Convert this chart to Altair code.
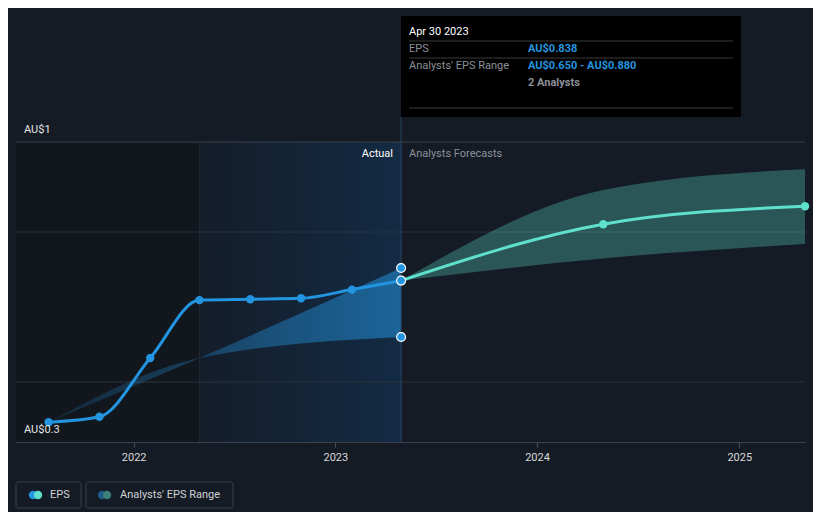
import altair as alt
import pandas as pd

# ---- data ----
eps_dates = ["2021-07-31", "2021-10-31", "2022-01-31", "2022-04-30",
             "2022-07-31", "2022-10-31", "2023-01-31", "2023-04-30"]
eps_vals = [0.366, 0.384, 0.580, 0.773, 0.776, 0.779, 0.808, 0.838]

fc_dates = ["2023-04-30", "2024-04-30", "2025-04-30"]
fc_vals = [0.838, 1.026, 1.086]
fc_low = [0.838, 0.912, 0.960]
fc_high = [0.838, 1.140, 1.209]

hist_dates = ["2021-07-31", "2022-04-30", "2023-04-30"]
hist_low = [0.366, 0.580, 0.650]
hist_high = [0.366, 0.580, 0.880]

end_date = "2023-04-30"
end_vals = [0.880, 0.838, 0.650]

grid_vals = [0.5, 1.0]
top_val = 1.3
year_ticks = [2022, 2023, 2024, 2025]

FONT = "Roboto"
BG = "#151b24"
BLUE = "#2394df"
TEAL = "#5fe0cc"

eps_df = pd.DataFrame({"date": eps_dates, "eps": eps_vals})
fc_df = pd.DataFrame({"date": fc_dates, "eps": fc_vals, "low": fc_low, "high": fc_high})
hist_df = pd.DataFrame({"date": hist_dates, "low": hist_low, "high": hist_high})
end_df = pd.DataFrame({"date": [end_date] * 3, "eps": end_vals})

xscale = alt.Scale(domain=[alt.DateTime(year=2021, month=6, date=2),
                           alt.DateTime(year=2025, month=4, date=30)])
yscale = alt.Scale(domain=[0.3, 1.3])

X = alt.X("date:T", scale=xscale, title=None,
          axis=alt.Axis(values=[alt.DateTime(year=y, month=1, date=1) for y in year_ticks],
                        format="%Y", grid=False, labelColor="#d9d9d9", labelFontSize=11,
                        labelFont=FONT, tickColor="#4a505a", domainColor="#3c424c",
                        tickSize=5, labelPadding=4))
Y = alt.Y("eps:Q", scale=yscale, axis=None)

# background regions (first layer carries the x axis)
bg_dark = alt.Chart(pd.DataFrame({"date": ["2021-06-02"], "date2": ["2022-04-30"]})).mark_rect(
    color="#12161d").encode(x=X, x2="date2:T", y=alt.value(0), y2=alt.value(300))
bg_grad = alt.Chart(pd.DataFrame({"date": ["2022-04-30"], "date2": ["2023-04-30"]})).mark_rect(
    color=alt.LinearGradient(gradient="linear", x1=0, x2=1, y1=0, y2=0,
                             stops=[alt.GradientStop(color="#141d2a", offset=0),
                                    alt.GradientStop(color="#132b44", offset=1)])
).encode(x=X, x2="date2:T", y=alt.value(0), y2=alt.value(300))

grid = alt.Chart(pd.DataFrame({"eps": grid_vals})).mark_rule(color="#2b323c", strokeWidth=1).encode(
    y=Y, x=alt.value(0), x2=alt.value(789))
top_rule = alt.Chart(pd.DataFrame({"eps": [top_val]})).mark_rule(color="#3a404a", strokeWidth=1).encode(
    y=Y, x=alt.value(0), x2=alt.value(789))

sep_2022 = alt.Chart(pd.DataFrame({"date": ["2022-04-30"]})).mark_rule(color="#1e2a38").encode(
    x=X, y=alt.value(0), y2=alt.value(300))
sep_2023 = alt.Chart(pd.DataFrame({"date": [end_date]})).mark_rule(color="#274662").encode(
    x=X, y=alt.value(-25), y2=alt.value(300))

hist_band = alt.Chart(hist_df).mark_area(
    interpolate="monotone",
    color=alt.LinearGradient(gradient="linear", x1=0, x2=1, y1=0, y2=0,
                             stops=[alt.GradientStop(color="rgba(35,148,223,0.15)", offset=0),
                                    alt.GradientStop(color="rgba(35,148,223,0.55)", offset=1)])
).encode(x=X, y=alt.Y("low:Q", scale=yscale, axis=None), y2="high:Q")

fc_band = alt.Chart(fc_df).mark_area(interpolate="monotone", color=TEAL, opacity=0.3).encode(
    x=X, y=alt.Y("low:Q", scale=yscale, axis=None), y2="high:Q")

eps_line = alt.Chart(eps_df).mark_line(interpolate="monotone", color=BLUE, strokeWidth=3).encode(
    x=X, y=Y)
eps_pts = alt.Chart(eps_df.iloc[:-1]).mark_circle(color=BLUE, size=70, opacity=1).encode(
    x=X, y=Y)

fc_line = alt.Chart(fc_df).mark_line(interpolate="monotone", color=TEAL, strokeWidth=3).encode(
    x=X, y=Y)
fc_pts = alt.Chart(fc_df.iloc[1:]).mark_circle(color=TEAL, size=70, opacity=1).encode(
    x=X, y=Y)

end_pts = alt.Chart(end_df).mark_point(filled=True, fill=BLUE, stroke="white", strokeWidth=1.2,
                                       size=80, opacity=1).encode(x=X, y=Y)

ylabels = alt.Chart(pd.DataFrame({"eps": [1.3, 0.3], "t": ["AU$1", "AU$0.3"]})).mark_text(
    align="left", baseline="middle", dy=-12, color="#e6e6e6", fontSize=11, font=FONT).encode(
    y=Y, x=alt.value(8), text="t:N")

actual_lbl = alt.Chart(pd.DataFrame({"t": ["Actual"]})).mark_text(
    align="right", baseline="middle", fontSize=11, font=FONT, color="#ffffff").encode(
    x=alt.value(377), y=alt.value(12), text="t:N")
fc_lbl = alt.Chart(pd.DataFrame({"t": ["Analysts Forecasts"]})).mark_text(
    align="left", baseline="middle", fontSize=11, font=FONT, color="#8b9099").encode(
    x=alt.value(393), y=alt.value(12), text="t:N")

# tooltip box
tip_box = alt.Chart(pd.DataFrame({"a": [0]})).mark_rect(color="#000000").encode(
    x=alt.value(385), x2=alt.value(725), y=alt.value(-126), y2=alt.value(-25))
tip_seps = alt.Chart(pd.DataFrame({"yy": [-101, -84, -34]})).mark_rule(color="#3a3a3a").encode(
    x=alt.value(393), x2=alt.value(717), y=alt.Y("yy:Q", scale=None, axis=None))
tip_title = alt.Chart(pd.DataFrame({"t": ["Apr 30 2023"]})).mark_text(
    align="left", baseline="middle", fontSize=11, font=FONT, color="#ffffff").encode(
    x=alt.value(393), y=alt.value(-110), text="t:N")
tip_keys = alt.Chart(pd.DataFrame({"t": ["EPS", "Analysts' EPS Range"], "yy": [-93, -76]})).mark_text(
    align="left", baseline="middle", fontSize=11, font=FONT, color="#8b9099").encode(
    x=alt.value(393), y=alt.Y("yy:Q", scale=None, axis=None), text="t:N")
tip_vals = alt.Chart(pd.DataFrame({"t": ["AU$0.838", "AU$0.650 - AU$0.880"], "yy": [-93, -76]})).mark_text(
    align="left", baseline="middle", fontSize=11, font=FONT, fontWeight="bold", color=BLUE).encode(
    x=alt.value(512), y=alt.Y("yy:Q", scale=None, axis=None), text="t:N")
tip_n = alt.Chart(pd.DataFrame({"t": ["2 Analysts"]})).mark_text(
    align="left", baseline="middle", fontSize=11, font=FONT, fontWeight="bold", color="#8b9099").encode(
    x=alt.value(512), y=alt.value(-59), text="t:N")

# legend
leg_boxes = alt.Chart(pd.DataFrame({"x1": [0, 70], "x2": [65, 217]})).mark_rect(
    fill=BG, stroke="#3a3f48", strokeWidth=1, cornerRadius=2).encode(
    x=alt.X("x1:Q", scale=None, axis=None), x2="x2:Q", y=alt.value(340), y2=alt.value(366))
leg_dots = alt.Chart(pd.DataFrame({
    "x": [17, 22, 86, 91], "c": ["a", "b", "c", "d"]})).mark_circle(size=70, opacity=1).encode(
    x=alt.X("x:Q", scale=None, axis=None), y=alt.value(353),
    color=alt.Color("c:N", scale=alt.Scale(domain=["a", "b", "c", "d"],
                                           range=[BLUE, TEAL, "#1f5a88", "#3b7f78"]), legend=None))
leg_text = alt.Chart(pd.DataFrame({"t": ["EPS", "Analysts' EPS Range"], "x": [34, 104]})).mark_text(
    align="left", baseline="middle", fontSize=11, font=FONT, color="#cfd2d6").encode(
    x=alt.X("x:Q", scale=None, axis=None), y=alt.value(353), text="t:N")

chart = alt.layer(
    bg_dark, bg_grad, grid, top_rule, sep_2022, hist_band, fc_band, sep_2023,
    eps_line, fc_line, eps_pts, fc_pts, end_pts, ylabels, actual_lbl, fc_lbl,
    tip_box, tip_seps, tip_title, tip_keys, tip_vals, tip_n,
    leg_boxes, leg_dots, leg_text
).resolve_scale(color="independent").properties(
    width=789, height=300,
    padding={"left": 8, "top": 134, "right": 8, "bottom": 70},
    autosize=alt.AutoSizeParams(type="none"),
    background=BG
).configure_view(stroke=None)

chart.save("out.html", embed_options={"renderer": "svg", "actions": False})
